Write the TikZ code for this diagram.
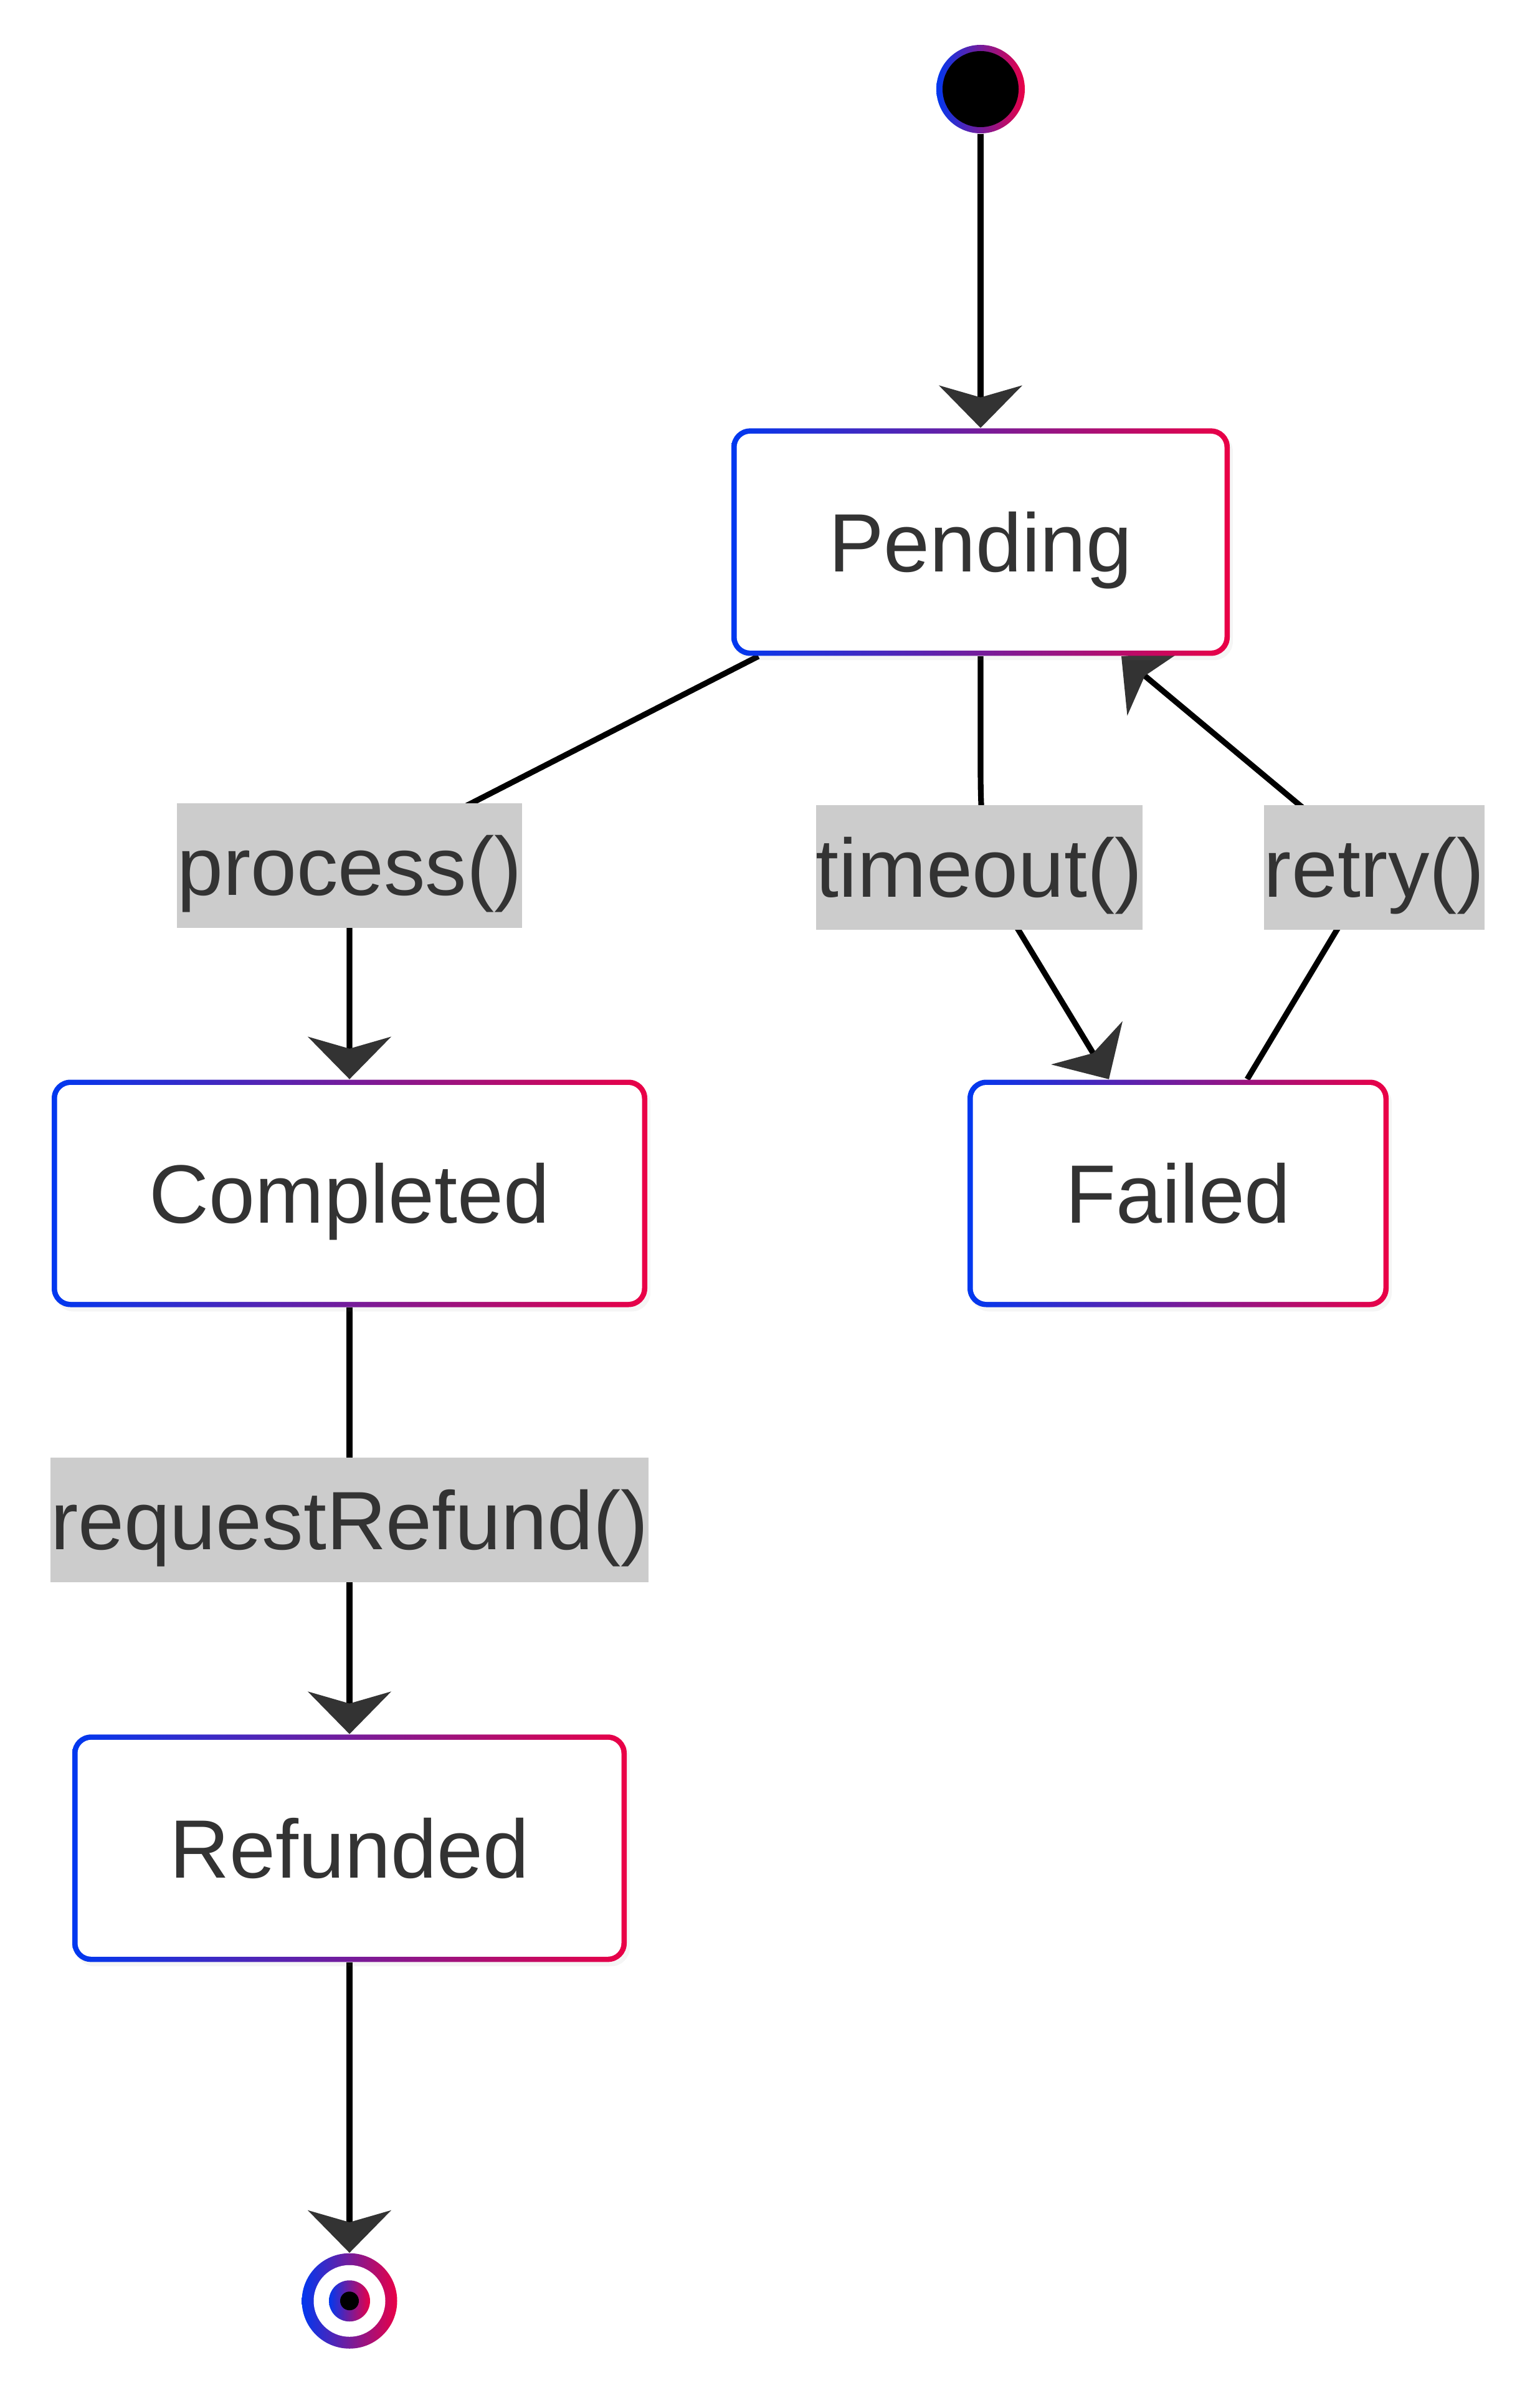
\documentclass[tikz,border=0pt]{standalone}
\usepackage{fontspec}
\setmainfont{Liberation Sans}
\usepackage{tikz}
\usetikzlibrary{positioning,shadows}
\usetikzlibrary{arrows.meta}
\definecolor{stblue}{HTML}{0038F0}
\definecolor{stred}{HTML}{EA0046}
\definecolor{txtgray}{HTML}{333333}
\definecolor{lblgray}{HTML}{CCCCCC}
\pgfdeclarelayer{edges}
\pgfsetlayers{edges,main}

\begin{document}
\begin{tikzpicture}
\tikzstyle{state}=[rectangle, rounded corners=3mm, minimum height=3.65cm, left color=stblue, right color=stred, text=txtgray, font=\fontsize{37.8}{45}\selectfont, text height=0.95cm, text depth=0cm, drop shadow={opacity=0.08, shadow xshift=0.5mm, shadow yshift=-0.7mm}, path picture={\fill[white, rounded corners=2.2mm] ([shift={(0.085cm,-0.085cm)}]path picture bounding box.north west) rectangle ([shift={(-0.085cm,0.085cm)}]path picture bounding box.south east);}]
\tikzstyle{lbl}=[rectangle, fill=lblgray, text=txtgray, font=\fontsize{37.8}{45}\selectfont, inner xsep=0pt, minimum height=2cm, text height=0.95cm, text depth=0cm]
\tikzstyle{init}=[circle, minimum size=1.42cm, inner sep=0pt, left color=stblue, right color=stred, path picture={\fill[black] (path picture bounding box.center) circle (0.61cm);}]
\tikzstyle{final}=[circle, minimum size=1.53cm, inner sep=0pt, left color=stblue, right color=stred, path picture={\fill[white] (path picture bounding box.center) circle (0.575cm); \shade[left color=stblue, right color=stred] (path picture bounding box.center) circle (0.33cm); \fill[black] (path picture bounding box.center) circle (0.15cm);}]
\tikzstyle{connect}=[line width=2.6pt, -{Stealth[length=6.8mm, width=13.3mm, inset=1.9mm, color=txtgray]}]
  \useasboundingbox (0,0) rectangle (24.71,-38.40);
  \node[init] (start) at (15.74,-1.43) {};
  \node[state, minimum width=8.0cm, below=4.72cm of start] (pending) {Pending};
  \node[state, minimum width=9.56cm] (completed) at (5.61,-19.15) {Completed};
  \node[state, minimum width=6.76cm] (failed) at (18.91,-19.15) {Failed};
  \node[lbl, above=2.42cm of completed] (process) {process()};
  \node[lbl] (timeout) at (15.72,-13.92) {timeout()};
  \node[lbl] (retry) at (22.06,-13.92) {retry()};
  \node[lbl, below=2.40cm of completed] (reqrefund) {requestRefund()};
  \node[state, minimum width=8.9cm, below=2.43cm of reqrefund] (refunded) {Refunded};
  \node[final, below=4.66cm of refunded] (finish) {};

  \begin{pgfonlayer}{edges}
  \draw[connect] (start) -- (pending);
  \draw[connect] ([xshift=0.44cm]pending.south west) -- (process.center) -- (completed);
  \draw[connect] (pending.south) -- ++(0,-1.8) to[out=-90, in=122] ([xshift=0.63cm]timeout.south) -- ([xshift=-1.11cm]failed.north);
  \draw[connect] ([xshift=1.11cm]failed.north) -- (retry.center) -- ([xshift=2.26cm]pending.south);
  \draw[connect] (completed) -- (reqrefund.center) -- (refunded);
  \draw[connect] (refunded) -- (finish);
  \end{pgfonlayer}
\end{tikzpicture}
\end{document}
